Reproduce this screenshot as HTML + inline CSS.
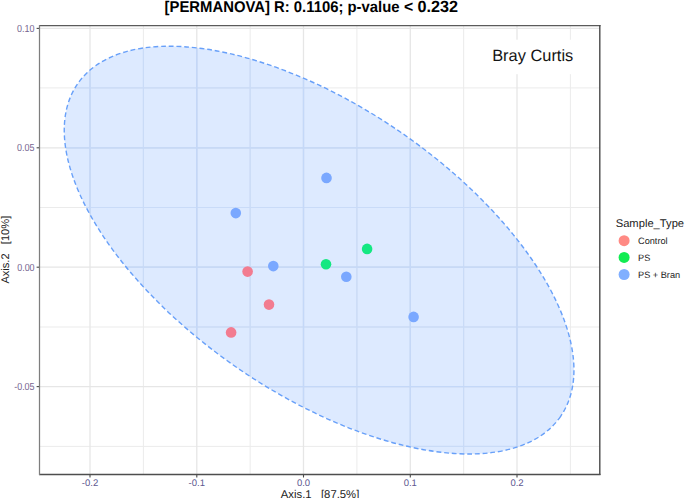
<!DOCTYPE html>
<html><head><meta charset="utf-8">
<style>
html,body{margin:0;padding:0;background:#fff;}
body{width:685px;height:498px;overflow:hidden;}
svg{display:block;}
text{font-family:"Liberation Sans",sans-serif;text-rendering:geometricPrecision;}
</style></head>
<body>
<svg width="685" height="498" viewBox="0 0 685 498">
<defs><clipPath id="ec"><ellipse cx="319.1" cy="250.1" rx="293.2" ry="143.35" transform="rotate(34.53 319.1 250.1)"/></clipPath></defs>
<rect x="0" y="0" width="685" height="498" fill="#fff"/>
<g fill="none">
<line x1="143.4" y1="25" x2="143.4" y2="475" stroke="#ebebeb" stroke-width="1.0"/>
<line x1="250.15" y1="25" x2="250.15" y2="475" stroke="#ebebeb" stroke-width="1.0"/>
<line x1="356.9" y1="25" x2="356.9" y2="475" stroke="#ebebeb" stroke-width="1.0"/>
<line x1="463.65" y1="25" x2="463.65" y2="475" stroke="#ebebeb" stroke-width="1.0"/>
<line x1="570.4" y1="25" x2="570.4" y2="475" stroke="#ebebeb" stroke-width="1.0"/>
<line x1="39" y1="87.9" x2="600" y2="87.9" stroke="#ebebeb" stroke-width="1.0"/>
<line x1="39" y1="207.5" x2="600" y2="207.5" stroke="#ebebeb" stroke-width="1.0"/>
<line x1="39" y1="327.0" x2="600" y2="327.0" stroke="#ebebeb" stroke-width="1.0"/>
<line x1="39" y1="446.4" x2="600" y2="446.4" stroke="#ebebeb" stroke-width="1.0"/>
<line x1="90.0" y1="25" x2="90.0" y2="475" stroke="#e6e6e6" stroke-width="1.3"/>
<line x1="196.8" y1="25" x2="196.8" y2="475" stroke="#e6e6e6" stroke-width="1.3"/>
<line x1="303.5" y1="25" x2="303.5" y2="475" stroke="#e6e6e6" stroke-width="1.3"/>
<line x1="410.3" y1="25" x2="410.3" y2="475" stroke="#e6e6e6" stroke-width="1.3"/>
<line x1="517.0" y1="25" x2="517.0" y2="475" stroke="#e6e6e6" stroke-width="1.3"/>
<line x1="39" y1="28.4" x2="600" y2="28.4" stroke="#e6e6e6" stroke-width="1.3"/>
<line x1="39" y1="147.8" x2="600" y2="147.8" stroke="#e6e6e6" stroke-width="1.3"/>
<line x1="39" y1="267.2" x2="600" y2="267.2" stroke="#e6e6e6" stroke-width="1.3"/>
<line x1="39" y1="386.6" x2="600" y2="386.6" stroke="#e6e6e6" stroke-width="1.3"/>
</g>
<!-- label box -->
<rect x="480" y="39.7" width="110" height="34.5" fill="#fff"/>
<text x="492.2" y="60.9" font-size="16.4" fill="#151515">Bray Curtis</text>
<!-- ellipse fill -->
<ellipse cx="319.1" cy="250.1" rx="293.2" ry="143.35" transform="rotate(34.53 319.1 250.1)" fill="#619cff" fill-opacity="0.215"/>
<g fill="none" clip-path="url(#ec)">
<line x1="143.4" y1="25" x2="143.4" y2="475" stroke="#c9dbf8" stroke-width="1.0"/>
<line x1="250.15" y1="25" x2="250.15" y2="475" stroke="#c9dbf8" stroke-width="1.0"/>
<line x1="356.9" y1="25" x2="356.9" y2="475" stroke="#c9dbf8" stroke-width="1.0"/>
<line x1="463.65" y1="25" x2="463.65" y2="475" stroke="#c9dbf8" stroke-width="1.0"/>
<line x1="570.4" y1="25" x2="570.4" y2="475" stroke="#c9dbf8" stroke-width="1.0"/>
<line x1="39" y1="87.9" x2="600" y2="87.9" stroke="#c9dbf8" stroke-width="1.0"/>
<line x1="39" y1="207.5" x2="600" y2="207.5" stroke="#c9dbf8" stroke-width="1.0"/>
<line x1="39" y1="327.0" x2="600" y2="327.0" stroke="#c9dbf8" stroke-width="1.0"/>
<line x1="39" y1="446.4" x2="600" y2="446.4" stroke="#c9dbf8" stroke-width="1.0"/>
<line x1="90.0" y1="25" x2="90.0" y2="475" stroke="#c4d8f8" stroke-width="1.3"/>
<line x1="196.8" y1="25" x2="196.8" y2="475" stroke="#c4d8f8" stroke-width="1.3"/>
<line x1="303.5" y1="25" x2="303.5" y2="475" stroke="#c4d8f8" stroke-width="1.3"/>
<line x1="410.3" y1="25" x2="410.3" y2="475" stroke="#c4d8f8" stroke-width="1.3"/>
<line x1="517.0" y1="25" x2="517.0" y2="475" stroke="#c4d8f8" stroke-width="1.3"/>
<line x1="39" y1="28.4" x2="600" y2="28.4" stroke="#c4d8f8" stroke-width="1.3"/>
<line x1="39" y1="147.8" x2="600" y2="147.8" stroke="#c4d8f8" stroke-width="1.3"/>
<line x1="39" y1="267.2" x2="600" y2="267.2" stroke="#c4d8f8" stroke-width="1.3"/>
<line x1="39" y1="386.6" x2="600" y2="386.6" stroke="#c4d8f8" stroke-width="1.3"/>
</g>
<!-- points -->
<circle cx="235.8" cy="213.1" r="5.3" fill="#7aa8ff"/>
<circle cx="326.5" cy="177.9" r="5.3" fill="#7aa8ff"/>
<circle cx="273.3" cy="266.1" r="5.3" fill="#7aa8ff"/>
<circle cx="346.3" cy="276.7" r="5.3" fill="#7aa8ff"/>
<circle cx="413.6" cy="316.9" r="5.3" fill="#7aa8ff"/>
<circle cx="326.0" cy="264.3" r="5.3" fill="#14e882"/>
<circle cx="367.1" cy="248.9" r="5.3" fill="#14e882"/>
<circle cx="247.6" cy="271.6" r="5.3" fill="#f27c90"/>
<circle cx="269.0" cy="304.6" r="5.3" fill="#f27c90"/>
<circle cx="231.1" cy="332.4" r="5.3" fill="#f27c90"/>
<!-- ellipse stroke -->
<ellipse cx="319.1" cy="250.1" rx="293.2" ry="143.35" transform="rotate(34.53 319.1 250.1)" fill="none" stroke="#68a0f9" stroke-width="1.4" stroke-dasharray="4.85 2.85"/>
<!-- panel border -->
<line x1="39" y1="25.6" x2="600.5" y2="25.6" stroke="#5a5a5a" stroke-width="1.25"/>
<line x1="599.8" y1="25" x2="599.8" y2="475" stroke="#4a4a4a" stroke-width="1.4"/>
<line x1="39" y1="474.6" x2="600.5" y2="474.6" stroke="#4e4e4e" stroke-width="1.5"/>
<line x1="39.5" y1="25" x2="39.5" y2="475" stroke="#7e7e7e" stroke-width="1.25"/>
<!-- ticks -->
<g stroke="#4a4a4a" stroke-width="1.1">
<line x1="36.6" y1="28.4" x2="39" y2="28.4"/><line x1="36.6" y1="147.8" x2="39" y2="147.8"/><line x1="36.6" y1="267.2" x2="39" y2="267.2"/><line x1="36.6" y1="386.6" x2="39" y2="386.6"/>
<line x1="90.0" y1="475" x2="90.0" y2="477.5"/><line x1="196.8" y1="475" x2="196.8" y2="477.5"/><line x1="303.5" y1="475" x2="303.5" y2="477.5"/><line x1="410.3" y1="475" x2="410.3" y2="477.5"/><line x1="517.0" y1="475" x2="517.0" y2="477.5"/>
</g>
<!-- y labels -->
<g font-size="10.2" fill="#74648f" text-anchor="end">
<text transform="translate(34.5 31.9) scale(0.88 1)">0.10</text>
<text transform="translate(34.4 151.4) scale(0.88 1)">0.05</text>
<text transform="translate(34.6 271.2) scale(0.88 1)">0.00</text>
<text transform="translate(34.6 390.2) scale(0.88 1)">-0.05</text>
</g>
<!-- x labels -->
<g font-size="9.5" fill="#5d5890" text-anchor="middle">
<text x="90.0" y="485.9">-0.2</text>
<text x="196.8" y="485.9">-0.1</text>
<text x="303.5" y="485.9">0.0</text>
<text x="410.3" y="485.9">0.1</text>
<text x="517.0" y="485.9">0.2</text>
</g>
<!-- axis titles -->
<text x="280.8" y="498" font-size="11.3" fill="#222" xml:space="preserve">Axis.1   [87.5%]</text>
<text transform="translate(9,283.6) rotate(-90)" font-size="11.1" fill="#222" xml:space="preserve">Axis.2   [10%]</text>
<!-- legend -->
<text x="615.7" y="226.6" font-size="11.2" fill="#222">Sample_Type</text>
<circle cx="624.1" cy="240.7" r="5.5" fill="#ff8a84"/>
<circle cx="624.1" cy="257.4" r="5.5" fill="#12ec52"/>
<circle cx="624.1" cy="274.5" r="5.5" fill="#80afff"/>
<g font-size="9.2" fill="#222">
<text x="638" y="244.2">Control</text>
<text x="638" y="260.7">PS</text>
<text x="638" y="277.9">PS + Bran</text>
</g>
<!-- title -->
<g font-weight="bold" fill="#000">
<text transform="translate(164.6 12) scale(0.958 1)" font-size="15.5" text-rendering="geometricPrecision">[PERMANOVA] R: 0.1106; p-value</text>
<text x="404" y="12" font-size="15.8" text-rendering="geometricPrecision">&lt;</text>
<text x="417.6" y="12" font-size="16.2" text-rendering="geometricPrecision">0.232</text>
</g>
</svg>
</body></html>
